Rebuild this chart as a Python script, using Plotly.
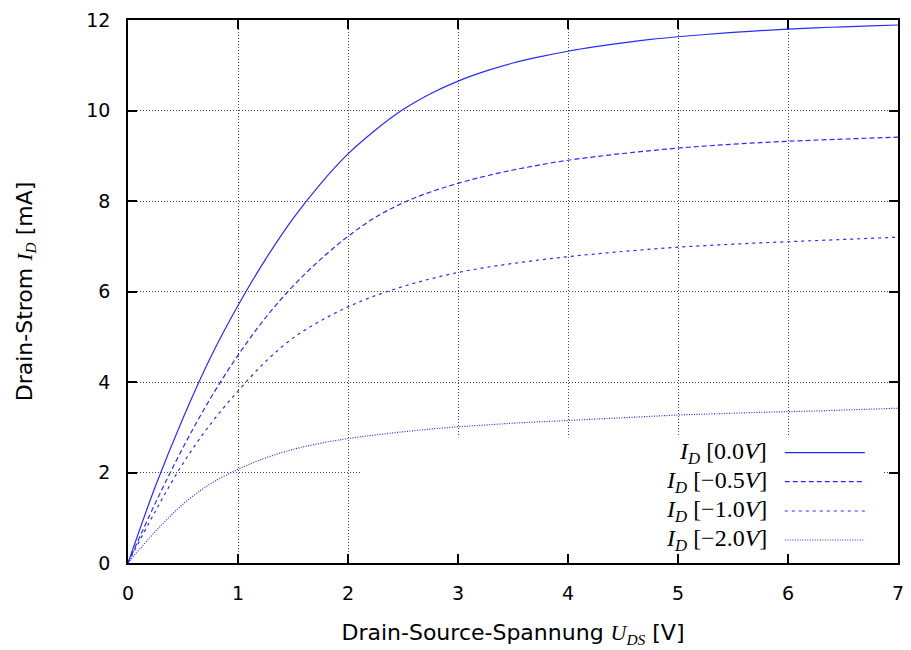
import plotly.graph_objects as go

# Drain-source voltage U_DS [V]
u_ds = [0, 0.25, 0.5, 0.75, 1, 1.25, 1.5, 1.75, 2, 2.25, 2.5, 2.75, 3, 3.25, 3.5, 3.75,
        4, 4.25, 4.5, 4.75, 5, 5.25, 5.5, 5.75, 6, 6.25, 6.5, 6.75, 7]

# Drain current I_D [mA] for several gate voltages
i_d_0v0 = [0, 1.70, 3.20, 4.54, 5.69, 6.71, 7.61, 8.38, 9.04, 9.57, 10.02, 10.37, 10.65, 10.87, 11.05, 11.19,
           11.31, 11.41, 11.495, 11.57, 11.63, 11.68, 11.725, 11.765, 11.80, 11.827, 11.85, 11.871, 11.89]
i_d_m0v5 = [0, 1.33, 2.55, 3.64, 4.59, 5.42, 6.12, 6.71, 7.22, 7.64, 7.96, 8.20, 8.39, 8.55, 8.685, 8.80,
            8.90, 8.98, 9.05, 9.113, 9.17, 9.215, 9.255, 9.29, 9.32, 9.345, 9.368, 9.39, 9.41]
i_d_m1v0 = [0, 1.15, 2.20, 3.07, 3.80, 4.45, 4.97, 5.35, 5.66, 5.91, 6.11, 6.28, 6.42, 6.53, 6.62, 6.70,
            6.77, 6.83, 6.885, 6.935, 6.98, 7.015, 7.045, 7.075, 7.10, 7.125, 7.15, 7.175, 7.20]
i_d_m2v0 = [0, 0.70, 1.30, 1.75, 2.07, 2.32, 2.51, 2.645, 2.75, 2.83, 2.90, 2.96, 3.01, 3.05, 3.09, 3.12,
            3.15, 3.18, 3.21, 3.24, 3.27, 3.29, 3.31, 3.33, 3.345, 3.36, 3.38, 3.40, 3.42]

series_labels = ["0.0", "\u22120.5", "\u22121.0", "\u22122.0"]
series_values = [i_d_0v0, i_d_m0v5, i_d_m1v0, i_d_m2v0]
dashes = ["solid", "5px,3px", "3px,4px", "1px,1.5px"]

x_ticks = [0, 1, 2, 3, 4, 5, 6, 7]
y_ticks = [0, 2, 4, 6, 8, 10, 12]

BLUE = "#2a2aff"
SANS = "DejaVu Sans"
SERIF = "Liberation Serif"

fig = go.Figure()
for vals, dash in zip(series_values, dashes):
    fig.add_trace(go.Scatter(
        x=u_ds, y=vals, mode="lines",
        line=dict(color=BLUE, width=1.2, dash=dash, shape="spline", smoothing=1.0),
        showlegend=False, hoverinfo="skip",
    ))

# white key box (covers grid, below traces)
fig.add_shape(type="rect", xref="x", yref="y", x0=2.11, x1=6.855, y0=0.06, y1=2.78,
              fillcolor="white", line=dict(width=0), layer="between")

# key entries (text right-aligned, sample line on the right)
key_y = [0.2031, 0.1497, 0.0958, 0.0424]
for lab, ky, dash in zip(series_labels, key_y, dashes):
    fig.add_annotation(
        xref="paper", yref="paper", x=0.833, y=ky, xanchor="right", yanchor="middle",
        text=f"<i>I</i><sub><i>D</i></sub> [{lab}<i>V</i>]", showarrow=False,
        font=dict(family=SERIF, size=24, color="black"),
    )
    fig.add_shape(type="line", xref="paper", yref="paper", x0=0.853, x1=0.957, y0=ky, y1=ky,
                  line=dict(color=BLUE, width=1.2, dash=dash))

axis_common = dict(
    showline=True, linecolor="black", linewidth=1.5, mirror="ticks",
    ticks="inside", ticklen=9, tickwidth=1.5, tickcolor="black",
    showgrid=True, gridcolor="#444444", gridwidth=1, griddash="1px,2px",
    zeroline=False, tickfont=dict(family=SANS, size=19, color="black"),
)

fig.update_xaxes(
    range=[0, 7], tickvals=x_ticks, ticktext=[str(v) for v in x_ticks],
    ticklabelstandoff=12,
    title=dict(text=f"Drain-Source-Spannung <span style=\"font-family:{SERIF}\"><i>U</i><sub><i>DS</i></sub></span> [V]",
               font=dict(family=SANS, size=22, color="black"), standoff=22),
    **axis_common,
)
fig.update_yaxes(
    range=[0, 12], tickvals=y_ticks, ticktext=[str(v) for v in y_ticks],
    ticklabelstandoff=12,
    title=dict(text=f"Drain-Strom <span style=\"font-family:{SERIF}\"><i>I</i><sub><i>D</i></sub></span> [mA]",
               font=dict(family=SANS, size=22, color="black"), standoff=48),
    **axis_common,
)

fig.update_layout(
    width=911, height=650,
    margin=dict(l=128, r=13, t=20, b=87, autoexpand=False),
    plot_bgcolor="white", paper_bgcolor="white",
    showlegend=False,
)

fig.write_html("out.html")
